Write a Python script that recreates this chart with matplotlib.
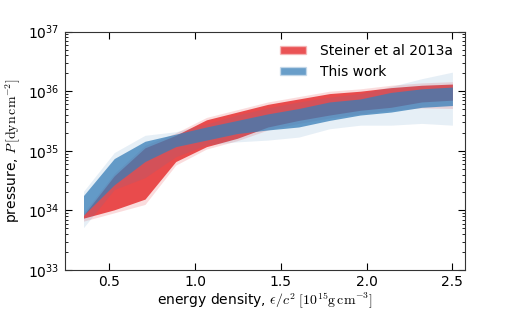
import numpy as np
import matplotlib
matplotlib.use("Agg")
import matplotlib.pyplot as plt
from matplotlib.patches import Patch

plt.rcParams['mathtext.fontset'] = 'cm'
plt.rcParams['font.size'] = 10

# energy density grid (1e15 g/cm^3)
eps = np.linspace(0.35, 2.5, 13)

# log10 pressure bands, Steiner et al 2013a
red_hi = [33.92, 34.58, 35.05, 35.26, 35.52, 35.65, 35.78, 35.87, 35.96, 36.00, 36.06, 36.10, 36.12]
red_lo = [33.87, 34.01, 34.19, 34.82, 35.07, 35.21, 35.40, 35.51, 35.60, 35.68, 35.73, 35.82, 35.85]
red_hi2 = [33.96, 34.62, 35.09, 35.30, 35.56, 35.69, 35.82, 35.91, 36.00, 36.04, 36.10, 36.14, 36.16]
red_lo2 = [33.82, 33.96, 34.10, 34.76, 35.03, 35.17, 35.35, 35.46, 35.55, 35.62, 35.68, 35.72, 35.71]

# log10 pressure bands, this work
blue_hi = [34.25, 34.87, 35.16, 35.28, 35.40, 35.51, 35.62, 35.71, 35.82, 35.87, 35.98, 36.04, 36.07]
blue_lo = [33.92, 34.43, 34.82, 35.07, 35.18, 35.29, 35.35, 35.40, 35.51, 35.60, 35.65, 35.73, 35.76]
blue_hi2 = [34.32, 34.97, 35.26, 35.32, 35.45, 35.60, 35.72, 35.82, 35.90, 35.96, 36.08, 36.21, 36.32]
blue_lo2 = [33.71, 34.35, 34.55, 34.90, 35.10, 35.15, 35.18, 35.23, 35.37, 35.43, 35.43, 35.46, 35.43]

red = '#e41a1c'
blue = '#377eb8'

fig = plt.figure(figsize=(5.17, 3.10), dpi=100)
ax = fig.add_axes([0.125, 0.129, 0.775, 0.769])

ax.fill_between(eps, 10**np.array(red_lo2), 10**np.array(red_hi2), color=red, alpha=0.15, lw=0)
ax.fill_between(eps, 10**np.array(red_lo), 10**np.array(red_hi), color=red, alpha=0.75, lw=0)
ax.fill_between(eps, 10**np.array(blue_lo2), 10**np.array(blue_hi2), color=blue, alpha=0.12, lw=0)
ax.fill_between(eps, 10**np.array(blue_lo), 10**np.array(blue_hi), color=blue, alpha=0.75, lw=0)

ax.set_yscale('log')
ax.set_ylim(1e33, 1e37)
ax.set_xlim(0.24, 2.575)
ax.set_xticks([0.5, 1.0, 1.5, 2.0, 2.5])
ax.tick_params(which='both', direction='in', top=True, right=True)
ax.tick_params(which='major', length=5)
ax.tick_params(which='minor', length=2.5)
for s in ax.spines.values():
    s.set_color('#333333')

ax.set_xlabel(r'energy density, $\epsilon/c^2\ [10^{15}\mathrm{g\,cm^{-3}}]$', labelpad=1)
ax.set_ylabel(r'pressure, $P\,[\mathrm{dyn\,cm^{-2}}]$')

handles = [Patch(facecolor=red, alpha=0.75, edgecolor='#f4b8b9', lw=1),
           Patch(facecolor=blue, alpha=0.75, edgecolor='#c6d9ea', lw=1)]
ax.legend(handles, ['Steiner et al 2013a', 'This work'], loc='upper right',
          frameon=False, handlelength=1.9, handleheight=0.5, fontsize=10,
          handletextpad=1.0)

fig.savefig('out.png', dpi=100)
